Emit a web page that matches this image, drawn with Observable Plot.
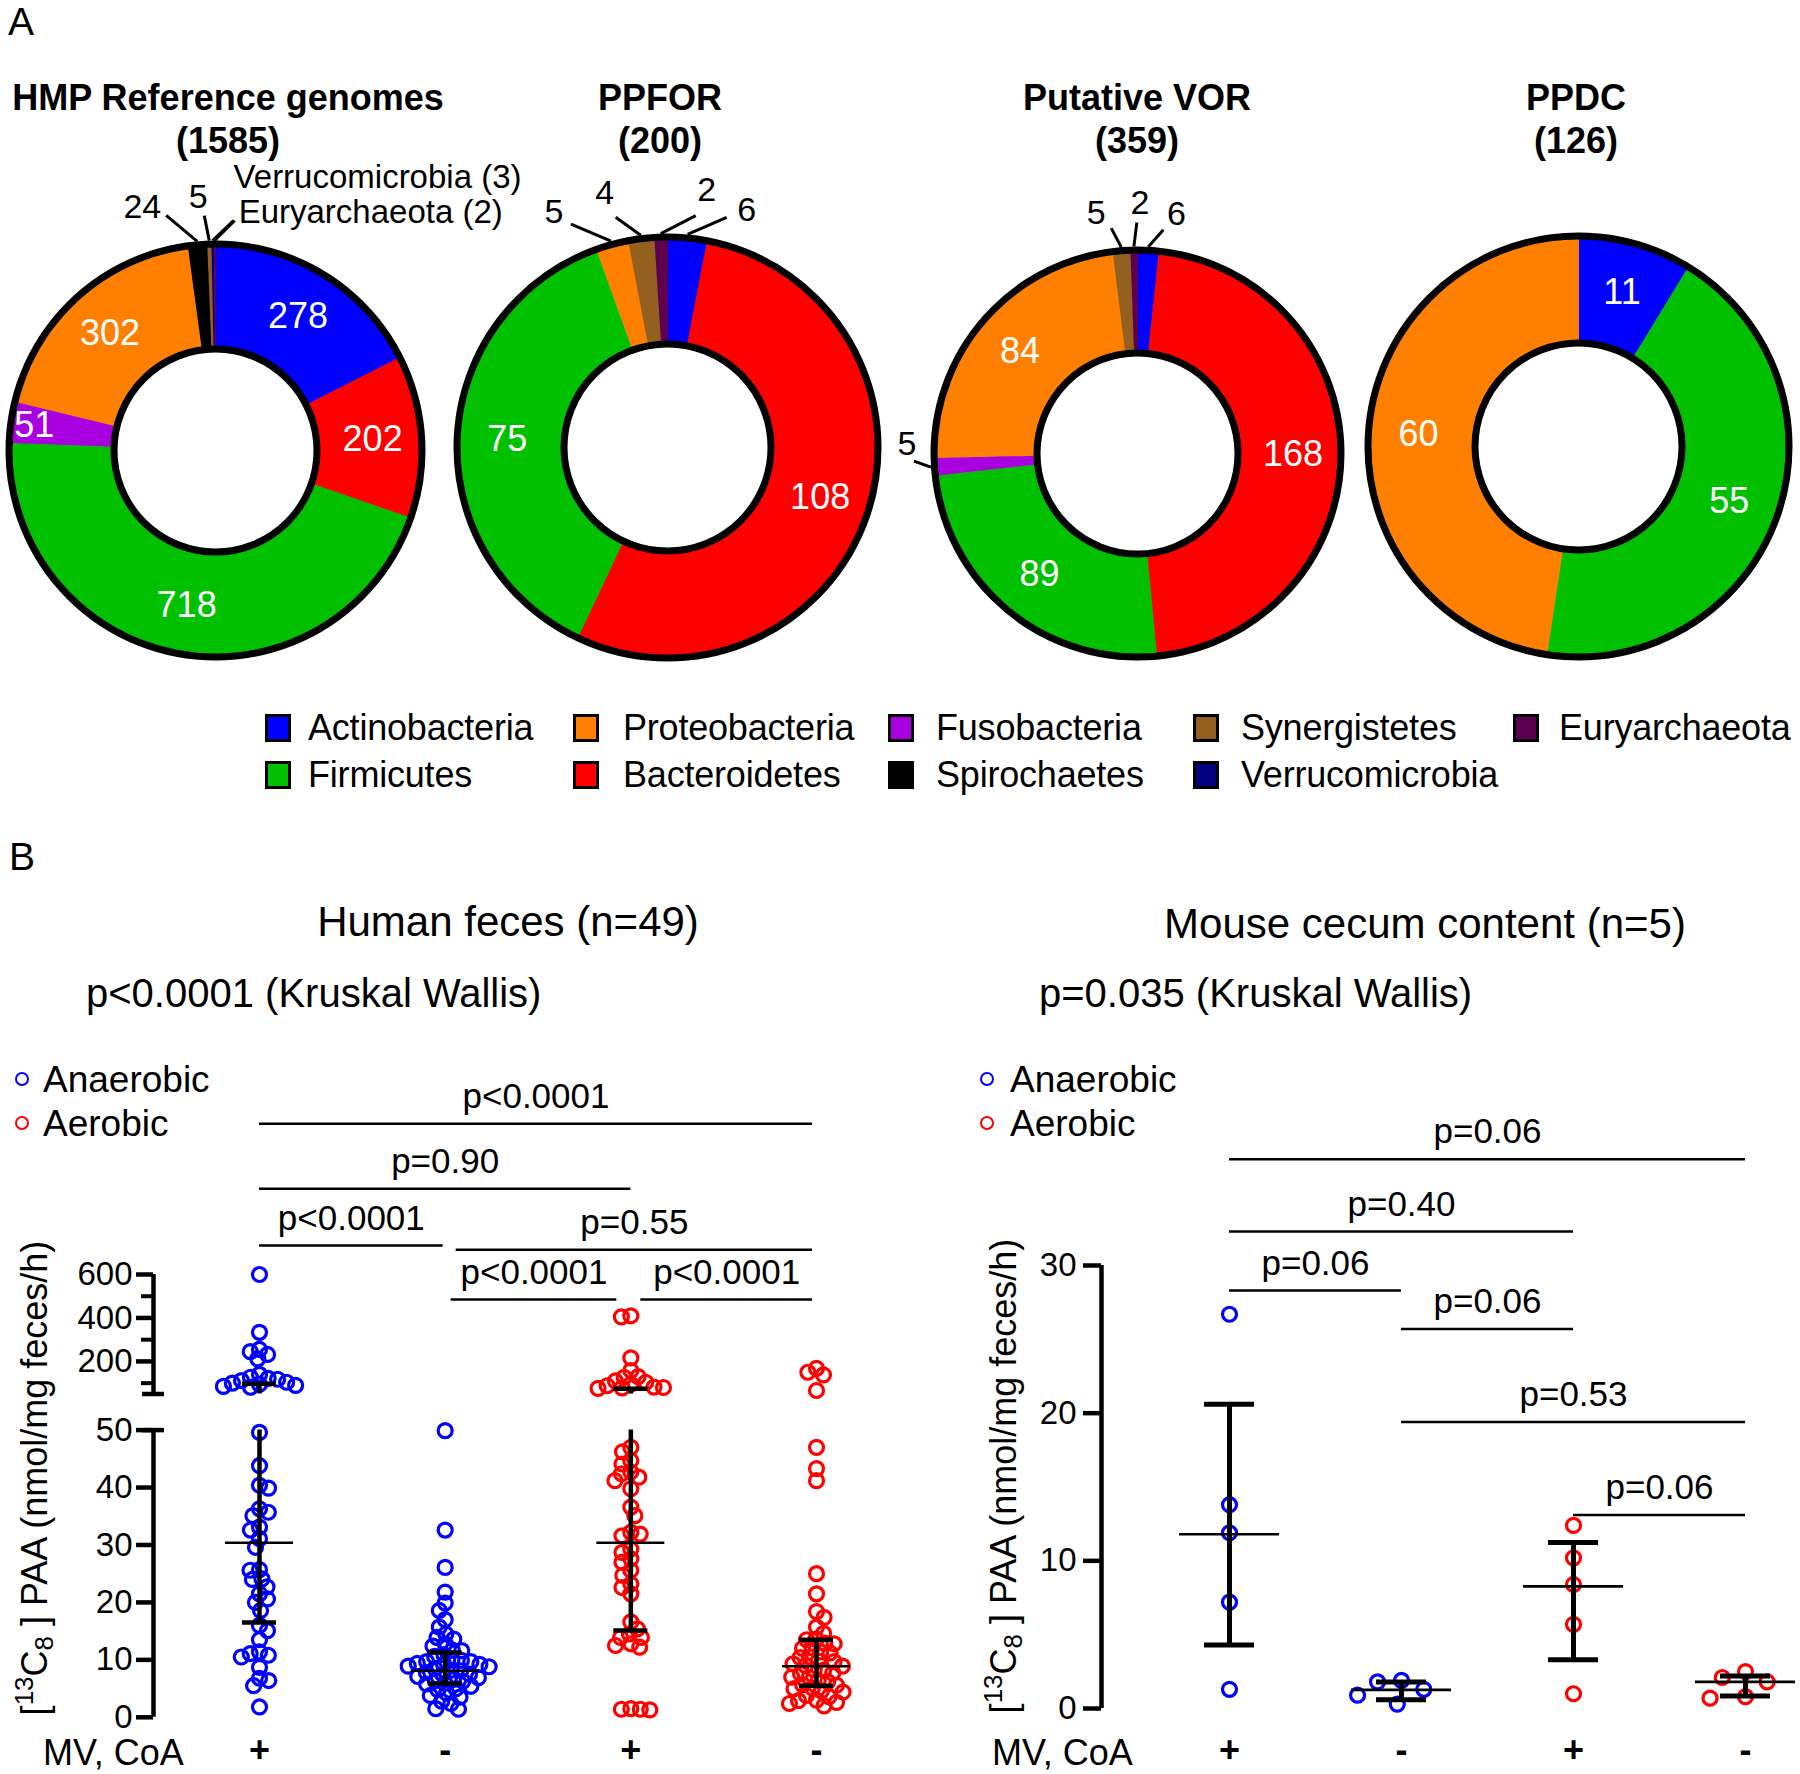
<!DOCTYPE html>
<html>
<head>
<meta charset="utf-8">
<script src="https://cdn.jsdelivr.net/npm/d3@7"></script>
<script src="https://cdn.jsdelivr.net/npm/@observablehq/plot@0.6"></script>
<style>
  html, body { margin: 0; padding: 0; background: #fff; }
  #fig { position: relative; width: 1800px; height: 1774px; overflow: hidden; background: #fff;
         font-family: "Liberation Sans", Arial, Helvetica, sans-serif; color: #000; }
  #fig .t { position: absolute; white-space: nowrap; line-height: 1; }
  #fig .w { position: absolute; }
  #fig .w svg { overflow: visible; max-width: none !important; }
  .sw { position: absolute; box-sizing: border-box; border: 3px solid #000; }
  .ring { position: absolute; box-sizing: border-box; border-radius: 50%; }
  .sup { font-size: 0.72em; vertical-align: 0.55em; line-height: 0; }
  .sub { font-size: 0.72em; vertical-align: -0.25em; line-height: 0; }
</style>
</head>
<body>
<div id="fig"></div>
<script>
// ================= DATA =================
// Panel A: phyla, colours, donut counts (clockwise from 12 o'clock)
const phyla = ["Actinobacteria","Proteobacteria","Fusobacteria","Synergistetes","Euryarchaeota",
               "Firmicutes","Bacteroidetes","Spirochaetes","Verrucomicrobia"];
const phylumColors = ["#0000ff","#ff8000","#a900e0","#94601f","#5e0050",
                      "#00c000","#ff0000","#000000","#000080"];
const donutTitles = ["HMP Reference genomes","PPFOR","Putative VOR","PPDC"];

const hmpPhyla   = ["Actinobacteria","Bacteroidetes","Firmicutes","Fusobacteria","Proteobacteria","Spirochaetes","Synergistetes","Verrucomicrobia","Euryarchaeota"];
const hmpCounts  = [278, 202, 718, 51, 302, 24, 5, 3, 2];
const ppforPhyla = ["Actinobacteria","Bacteroidetes","Firmicutes","Proteobacteria","Synergistetes","Euryarchaeota"];
const ppforCounts= [6, 108, 75, 5, 4, 2];
const vorPhyla   = ["Actinobacteria","Bacteroidetes","Firmicutes","Fusobacteria","Proteobacteria","Synergistetes","Euryarchaeota"];
const vorCounts  = [6, 168, 89, 5, 84, 5, 2];
const ppdcPhyla  = ["Actinobacteria","Firmicutes","Proteobacteria"];
const ppdcCounts = [11, 55, 60];

// Panel B
const conditionLabels = ["Anaerobic","Aerobic"];
const groupCondition  = ["Anaerobic","Anaerobic","Aerobic","Aerobic"];
const mvCoA = ["+","-","+","-"];

// Human feces (n=49 per group)
const humanAnaerobicPlus = [600, 334, 255, 245, 232, 212, 140, 127, 122, 118, 112, 104, 100, 95, 90, 85, 81,
  49.6, 43.8, 40.4, 39.9, 36.3, 35.7, 35.1, 33.1, 32.6, 31.1, 29.6, 25.7, 25.6, 24.1, 24.0, 22.7, 21.5,
  20.6, 20.0, 18.6, 16.0, 15.1, 13.5, 11.4, 11.1, 10.8, 10.5, 8.7, 6.8, 6.4, 5.5, 1.8];
const humanAnaerobicMinus = [49.9, 32.6, 26.1, 21.8, 19.9, 18.6, 17.0, 15.7, 14.5, 13.9, 13.6, 12.8,
  12.4, 11.7, 11.6, 10.9, 10.6, 10.0, 9.9, 9.7, 9.7, 9.4, 9.2, 9.2, 8.9, 8.8, 8.5, 8.2, 8.1, 7.8, 7.5,
  7.5, 7.1, 6.9, 6.6, 6.4, 6.3, 5.9, 5.8, 5.4, 5.0, 4.8, 4.2, 3.8, 3.5, 2.8, 2.4, 1.5, 1.4];
const humanAerobicPlus = [410, 405, 216, 158, 130, 127, 110, 104, 95, 88, 82, 80, 78, 76,
  47.0, 46.2, 44.7, 44.1, 42.7, 42.4, 41.8, 41.2, 39.8, 36.6, 35.1, 32.2, 31.9, 31.6, 29.3, 28.7, 27.6,
  27.0, 25.6, 24.7, 23.2, 22.6, 21.5, 16.6, 15.4, 14.5, 13.9, 13.9, 12.8, 12.5, 12.2, 1.5, 1.4, 1.4, 1.3];
const humanAerobicMinus = [168, 150, 138, 66, 47.0, 43.3, 41.2, 25.0, 21.5, 18.4, 17.4, 15.7,
  14.6, 13.6, 13.5, 12.9, 12.8, 12.1, 12.0, 11.4, 11.2, 10.5, 10.4, 9.8, 9.7, 9.3, 9.0, 8.9, 8.3, 8.2,
  7.7, 7.6, 7.0, 6.9, 6.4, 6.2, 5.7, 5.6, 5.1, 5.0, 4.6, 4.4, 3.8, 3.6, 3.0, 2.9, 2.6, 2.4, 2.0];
const humanMedian = [30.4, 8.1, 30.4, 8.9];
const humanQ1     = [16.5, 5.9, 15.1, 5.5];
const humanQ3     = [97, 11.3, 74, 13.5];
const humanBracketFrom  = [0, 0, 0, 1, 1, 2];
const humanBracketTo    = [3, 2, 1, 3, 2, 3];
const humanBracketLabel = ["p<0.0001","p=0.90","p<0.0001","p=0.55","p<0.0001","p<0.0001"];

// Mouse cecum content (n=5 per group)
const mouseAnaerobicPlus  = [26.7, 13.8, 11.9, 7.2, 1.3];
const mouseAnaerobicMinus = [1.9, 1.8, 1.3, 0.9, 0.3];
const mouseAerobicPlus    = [12.4, 10.2, 8.4, 5.7, 1.0];
const mouseAerobicMinus   = [2.5, 2.1, 1.8, 0.8, 0.7];
const mouseMean = [11.8, 1.26, 8.27, 1.8];
const mouseLow  = [4.3, 0.6, 3.3, 0.85];
const mouseHigh = [20.6, 1.8, 11.25, 2.2];
const mouseBracketFrom  = [0, 0, 0, 1, 1, 2];
const mouseBracketTo    = [3, 2, 1, 2, 3, 3];
const mouseBracketLabel = ["p=0.06","p=0.40","p=0.06","p=0.06","p=0.53","p=0.06"];

// ================= LAYOUT =================
const FONT = '"Liberation Sans", Arial, Helvetica, sans-serif';
const donutLayout = [
  {cx: 215,  cy: 450, R: 210, r: 105, titleX: 228, labelR: {Fusobacteria: 183}},
  {cx: 667,  cy: 447, R: 214, r: 107, titleX: 660, labelR: {}},
  {cx: 1137, cy: 453, R: 207, r: 104, titleX: 1137, labelR: {}},
  {cx: 1578, cy: 446, R: 214, r: 107, titleX: 1576, labelR: {}}
];
// leader lines: v = leader vector (px, screen), t = text offset from leader end (px, screen)
const leaderLayout = [
  { Spirochaetes:   {v: [-31, -26], t: [-5, -8],  anchor: "end"},
    Synergistetes:  {v: [-5, -25],  t: [-6, -18], anchor: "middle"},
    Verrucomicrobia:{v: [21, -20],  t: [0, -43],  anchor: "start", named: true, size: 33},
    Euryarchaeota:  {v: [20, -20],  t: [4, -8],   anchor: "start", named: true, size: 33} },
  { Actinobacteria: {v: [39, -17],  t: [20, -7],  anchor: "middle"},
    Proteobacteria: {v: [-40, -17], t: [-17, -12],anchor: "middle"},
    Synergistetes:  {v: [-25, -18], t: [-11, -24],anchor: "middle"},
    Euryarchaeota:  {v: [35, -18],  t: [11, -25], anchor: "middle"} },
  { Actinobacteria: {v: [15, -17],  t: [13, -16], anchor: "middle"},
    Fusobacteria:   {v: [-17, -6],  t: [-7, -17], anchor: "middle"},
    Synergistetes:  {v: [-10, -19], t: [-15, -15],anchor: "middle"},
    Euryarchaeota:  {v: [3, -24],   t: [3, -19],  anchor: "middle"} },
  {}
];

const fig = document.getElementById("fig");
function label(html, x, y, o = {}) {
  const d = document.createElement("div");
  d.className = "t";
  d.innerHTML = html;
  d.style.left = x + "px";
  d.style.top = y + "px";
  d.style.fontSize = (o.size || 36) + "px";
  if (o.bold) d.style.fontWeight = "bold";
  if (o.spacing) d.style.letterSpacing = o.spacing + "px";
  const tx = o.anchor === "middle" ? "-50%" : o.anchor === "end" ? "-100%" : "0";
  d.style.transform = `translate(${tx}, -50%)` + (o.rotate ? ` rotate(${o.rotate}deg)` : "");
  fig.appendChild(d);
}
function place(node, left, top, w, h) {
  const d = document.createElement("div");
  d.className = "w";
  d.style.left = left + "px"; d.style.top = top + "px";
  d.style.width = w + "px"; d.style.height = h + "px";
  d.appendChild(node);
  fig.appendChild(d);
}
const plotStyle = {background: "none", overflow: "visible", fontFamily: FONT, fontSize: "36px", color: "black"};

// ================= PANEL A =================
label("A", 8, 21, {size: 39});

function donut(i, phy, counts) {
  const L = donutLayout[i];
  const total = d3.sum(counts);
  let acc = 0;
  const slices = phy.map((p, k) => {
    const a0 = acc / total * 2 * Math.PI; acc += counts[k];
    const a1 = acc / total * 2 * Math.PI;
    return {phylum: p, count: counts[k], a0, a1, mid: (a0 + a1) / 2};
  });
  const ro = L.R - 3.5, ri = L.r - 3.5;
  const poly = [];
  for (const s of slices) {
    const n = Math.max(2, Math.ceil((s.a1 - s.a0) / (Math.PI / 360)));
    for (let k = 0; k <= n; k++) { const a = s.a0 + (s.a1 - s.a0) * k / n; poly.push({phylum: s.phylum, x: ro * Math.sin(a), y: ro * Math.cos(a)}); }
    for (let k = n; k >= 0; k--) { const a = s.a0 + (s.a1 - s.a0) * k / n; poly.push({phylum: s.phylum, x: ri * Math.sin(a), y: ri * Math.cos(a)}); }
  }
  const leaders = leaderLayout[i];
  const inside = slices.filter(s => !leaders[s.phylum]).map(s => {
    const rr = L.labelR[s.phylum] || (L.R + L.r) / 2;
    return {x: rr * Math.sin(s.mid), y: rr * Math.cos(s.mid), text: String(s.count)};
  });
  const links = [], outs = [];
  for (const s of slices) {
    const lay = leaders[s.phylum]; if (!lay) continue;
    const x1 = L.R * Math.sin(s.mid), y1 = L.R * Math.cos(s.mid);
    const x2 = x1 + lay.v[0], y2 = y1 - lay.v[1];
    links.push({x1, y1, x2, y2});
    outs.push({x: x2 + lay.t[0], y: y2 - lay.t[1], anchor: lay.anchor, size: lay.size || 34,
               text: lay.named ? `${s.phylum} (${s.count})` : String(s.count)});
  }
  const W = 620, H = 520;
  const marks = [
    Plot.line(poly, {x: "x", y: "y", z: "phylum", fill: "phylum", stroke: "phylum", strokeWidth: 1, curve: "linear"}),
    Plot.dot([{x: 0, y: 0}], {x: "x", y: "y", r: ro, stroke: "black", strokeWidth: 7, fill: "none"}),
    Plot.dot([{x: 0, y: 0}], {x: "x", y: "y", r: ri, stroke: "black", strokeWidth: 7, fill: "white"}),
    Plot.text(inside, {x: "x", y: "y", text: "text", fill: "white", fontSize: 36}),
    Plot.link(links, {x1: "x1", y1: "y1", x2: "x2", y2: "y2", stroke: "black", strokeWidth: 3})
  ];
  for (const a of ["start", "middle", "end"]) {
    for (const sz of [33, 34]) {
      const sub = outs.filter(o => o.anchor === a && o.size === sz);
      if (sub.length) marks.push(Plot.text(sub, {x: "x", y: "y", text: "text", textAnchor: a, fontSize: sz, fill: "black"}));
    }
  }
  const plot = Plot.plot({
    width: W, height: H, margin: 0,
    x: {domain: [-260, 360], range: [0, W], axis: null},
    y: {domain: [-230, 290], range: [H, 0], axis: null},
    color: {domain: phyla, range: phylumColors},
    style: plotStyle,
    marks
  });
  place(plot, L.cx - 260, L.cy - 290, W, H);
  label(donutTitles[i], L.titleX, 98, {size: 36, bold: true, anchor: "middle"});
  label(`(${total})`, L.titleX, 141, {size: 36, bold: true, anchor: "middle"});
}
donut(0, hmpPhyla, hmpCounts);
donut(1, ppforPhyla, ppforCounts);
donut(2, vorPhyla, vorCounts);
donut(3, ppdcPhyla, ppdcCounts);

// legend of phyla
const legSwatchX = [265, 573, 888, 1193, 1513];
const legTextX   = [308, 623, 936, 1241, 1559];
const legRowY    = [728, 775];
phyla.forEach((p, k) => {
  const col = k % 5, row = Math.floor(k / 5);
  const s = document.createElement("div");
  s.className = "sw";
  s.style.left = legSwatchX[col] + "px"; s.style.top = (legRowY[row] - 14) + "px";
  s.style.width = "26px"; s.style.height = "28px";
  s.style.background = phylumColors[k];
  fig.appendChild(s);
  label(p, legTextX[col], legRowY[row], {size: 36, spacing: -0.2});
});

// ================= PANEL B =================
label("B", 9, 856, {size: 39});
label("Human feces (n=49)", 508, 922, {size: 42, anchor: "middle"});
label("Mouse cecum content (n=5)", 1425, 924, {size: 42, anchor: "middle"});
label("p&lt;0.0001 (Kruskal Wallis)", 86, 993, {size: 40});
label("p=0.035 (Kruskal Wallis)", 1039, 993, {size: 40});

function ring(x, y, color) {
  const c = document.createElement("div");
  c.className = "ring";
  c.style.left = (x - 7) + "px"; c.style.top = (y - 7) + "px";
  c.style.width = "14px"; c.style.height = "14px";
  c.style.border = `2.6px solid ${color}`;
  fig.appendChild(c);
}
[[22, 43], [987, 1010]].forEach(([cx, tx]) => {
  ring(cx, 1079, "#0000ff"); label(conditionLabels[0], tx, 1079, {size: 37});
  ring(cx, 1123, "#ff0000"); label(conditionLabels[1], tx, 1123, {size: 37});
});
const yTitle = '[<span class="sup">13</span>C<span class="sub">8</span> ] PAA (nmol/mg feces/h)';
label(yTitle, 35, 1478, {size: 36, anchor: "middle", rotate: -90});
label(yTitle, 1004, 1476, {size: 36, anchor: "middle", rotate: -90});
label("MV, CoA", 43, 1753, {size: 36});
label("MV, CoA", 992, 1753, {size: 36});

function swarmOffsets(pixYs, d) {
  const order = pixYs.map((_, i) => i).sort((a, b) => pixYs[a] - pixYs[b]);
  const placed = [], off = new Array(pixYs.length).fill(0);
  let flip = 1;
  for (const i of order) {
    const y = pixYs[i];
    const near = placed.filter(p => Math.abs(p.y - y) < d);
    const cands = [0];
    for (const p of near) { const h = Math.sqrt(d * d - (p.y - y) ** 2); cands.push(p.x - h, p.x + h); }
    flip = -flip;
    cands.sort((a, b) => (Math.abs(a) - Math.abs(b)) || (flip * (a - b)));
    let best = cands.find(c => near.every(p => (p.x - c) ** 2 + (p.y - y) ** 2 >= d * d - 1e-6));
    if (best === undefined) best = 0;
    off[i] = best; placed.push({x: best, y});
  }
  return off;
}

function groupChart(c) {
  const yScale = d3.scaleLinear().domain(c.yDomain).range(c.yRange);
  const ppu = (c.xRange[1] - c.xRange[0]) / 3;
  const pts = [];
  c.series.forEach((vals, g) => {
    const offs = swarmOffsets(vals.map(v => yScale(v)), c.swarmD);
    vals.forEach((v, k) => pts.push({g, value: v, cond: groupCondition[g], x: g + offs[k] / ppu}));
  });
  const axisX = (c.marginLeft - c.xRange[0]) / ppu;
  const summ = c.center.map((m, g) => ({g, m, lo: c.lo[g], hi: c.hi[g]}));
  const bars = [];
  for (const s of summ) for (const seg of c.segments) {
    const a = Math.max(s.lo, seg[0]), b = Math.min(s.hi, seg[1]);
    if (b > a) bars.push({g: s.g, y1: a, y2: b});
  }
  const caps = summ.flatMap(s => [{g: s.g, y: s.lo}, {g: s.g, y: s.hi}]);
  const br = c.bFrom.map((f, k) => ({x1: f + c.bInset[k][0] / ppu, x2: c.bTo[k] - c.bInset[k][1] / ppu, y: c.bLevel[k], label: c.bLabel[k]}));
  const marks = [
    Plot.dot(pts, {x: "x", y: "value", stroke: "cond", r: 7, strokeWidth: 3.2, fill: "none"}),
    Plot.ruleX(bars, {x: "g", y1: "y1", y2: "y2", stroke: "black", strokeWidth: c.barW}),
    Plot.ruleY(caps, {y: "y", x1: d => d.g - c.capHW / ppu, x2: d => d.g + c.capHW / ppu, stroke: "black", strokeWidth: c.barW}),
    Plot.ruleY(summ, {y: "m", x1: d => d.g - c.centerHW / ppu, x2: d => d.g + c.centerHW / ppu, stroke: "black", strokeWidth: 2.6}),
    Plot.ruleX(c.segments, {x: () => axisX, y1: d => d[0], y2: d => d[1], stroke: "black", strokeWidth: 4.5}),
    Plot.axisY(c.majorTicks, {anchor: "left", tickSize: c.tickSize, tickPadding: c.tickPadding, strokeWidth: 4.5, fontSize: 33, label: null}),
    Plot.ruleY(br, {y: "y", x1: "x1", x2: "x2", stroke: "black", strokeWidth: 2.5}),
    Plot.text(br, {x: d => (d.x1 + d.x2) / 2, y: "y", text: "label", dy: -27, fontSize: 35, fill: "black"}),
    Plot.axisX([0, 1, 2, 3], {anchor: "bottom", tickSize: 0, tickPadding: 6, tickFormat: i => mvCoA[i], fontSize: 36, fontWeight: "bold", label: null})
  ];
  if (c.minorTicks.length) marks.push(Plot.axisY(c.minorTicks, {anchor: "left", tickSize: 12, tickPadding: 0, strokeWidth: 4, tickFormat: () => "", label: null}));
  if (c.breakCaps.length) marks.push(Plot.ruleY(c.breakCaps, {y: d => d, x1: () => axisX - 11 / ppu, x2: () => axisX + 11 / ppu, stroke: "black", strokeWidth: 4.5}));
  const plot = Plot.plot({
    width: c.width, height: c.height,
    marginLeft: c.marginLeft, marginRight: 0, marginTop: 0, marginBottom: c.marginBottom,
    x: {type: "linear", domain: [0, 3], range: c.xRange},
    y: {type: "linear", domain: c.yDomain, range: c.yRange},
    color: {domain: conditionLabels, range: ["#0000ff", "#ff0000"]},
    style: plotStyle,
    marks
  });
  place(plot, c.left, c.top, c.width, c.height);
}

// Human feces: broken y axis (0–50 and 50–600)
groupChart({
  left: 0, top: 1040, width: 900, height: 734, marginLeft: 153, marginBottom: 44,
  xRange: [259, 816],
  yDomain: [0, 50, 50.001, 600], yRange: [676.8, 389.6, 353.5, 234],
  segments: [[0, 50], [50.001, 600]],
  breakCaps: [50, 50.001],
  majorTicks: [0, 10, 20, 30, 40, 50, 200, 400, 600],
  minorTicks: [100, 300, 500],
  tickSize: 17, tickPadding: 4,
  series: [humanAnaerobicPlus, humanAnaerobicMinus, humanAerobicPlus, humanAerobicMinus],
  swarmD: 9.5,
  center: humanMedian, lo: humanQ1, hi: humanQ3,
  centerHW: 34, capHW: 17, barW: 4.5,
  bFrom: humanBracketFrom, bTo: humanBracketTo, bLabel: humanBracketLabel,
  bLevel: [1294, 995, 733, 714, 485, 485],
  bInset: [[0, 4], [0, 0], [0, 2], [11, 4], [6, 14], [10, 4]]
});

// Mouse cecum content
groupChart({
  left: 900, top: 1040, width: 900, height: 734, marginLeft: 201, marginBottom: 44,
  xRange: [329, 845],
  yDomain: [0, 30], yRange: [668, 225],
  segments: [[0, 30]],
  breakCaps: [],
  majorTicks: [0, 10, 20, 30],
  minorTicks: [],
  tickSize: 18, tickPadding: 7,
  series: [mouseAnaerobicPlus, mouseAnaerobicMinus, mouseAerobicPlus, mouseAerobicMinus],
  swarmD: 24,
  center: mouseMean, lo: mouseLow, hi: mouseHigh,
  centerHW: 50, capHW: 25, barW: 5,
  bFrom: mouseBracketFrom, bTo: mouseBracketTo, bLabel: mouseBracketLabel,
  bLevel: [37.2, 32.3, 28.3, 25.7, 19.4, 13.1],
  bInset: [[0, 0], [0, 0], [0, 0], [0, 0], [0, 0], [0, 0]]
});
</script>
</body>
</html>
